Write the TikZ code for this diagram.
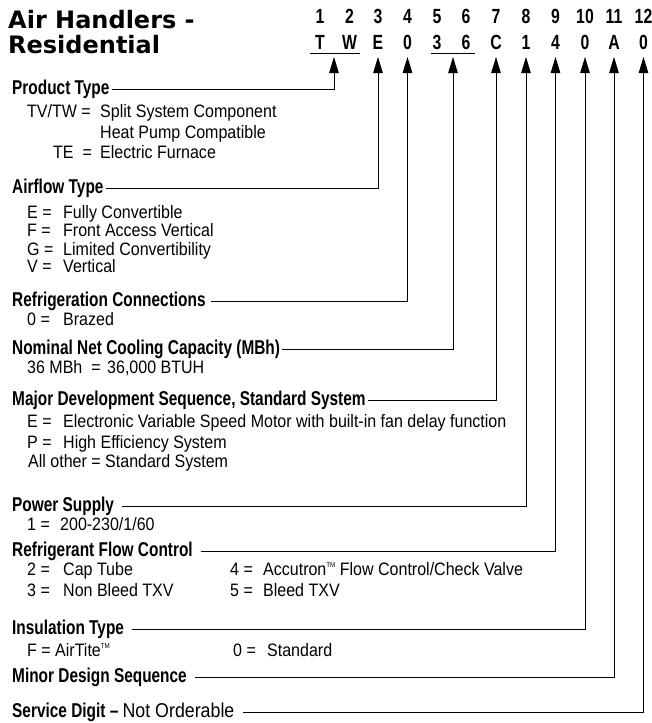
\documentclass[tikz,border=0pt]{standalone}
\usepackage{fontspec}
\setmainfont{Liberation Sans}
\newfontfamily\titlefont{DejaVu Sans}
\newfontfamily\headfont{Liberation Sans}[FakeStretch=0.77]
\newfontfamily\bodyfont{Liberation Sans}[FakeStretch=0.89]
\usetikzlibrary{arrows.meta}
\newcommand{\codebox}[2]{\makebox[#1][l]{#2}}
\newcommand{\tmark}{\raisebox{0.8ex}{\fontsize{7}{7}\selectfont TM}}

\tikzset{
  titletext/.style={anchor=base west, inner sep=0pt, font=\titlefont\bfseries\fontsize{24}{26}\selectfont},
  heading/.style={anchor=base west, inner xsep=2pt, inner ysep=0pt, text height=14pt, text depth=4pt, font=\headfont\bfseries\fontsize{20}{22}\selectfont},
  digit/.style={anchor=base, inner sep=0pt, font=\headfont\bfseries\fontsize{20.5}{22}\selectfont},
  entry/.style={anchor=base west, inner sep=0pt, font=\bodyfont\fontsize{18}{20}\selectfont},
  codeline/.style={line width=1pt, -{Triangle[width=9.5pt,length=16pt]}},
  widegap/.style={shorten <=6pt},
}

\begin{document}
\begin{tikzpicture}[x=1pt,y=-1pt]
		\useasboundingbox (0,0) rectangle (652,723);
		% title
		\node[titletext] (t1) at (8,28) {Air Handlers -};
		\node[titletext] (t2) at (8,53) {Residential};
		% digit positions
		\node[digit] (n1) at (320,23) {1};
		\node[digit] (n2) at (349.5,23) {2};
		\node[digit] (n3) at (378,23) {3};
		\node[digit] (n4) at (407.5,23) {4};
		\node[digit] (n5) at (437,23) {5};
		\node[digit] (n6) at (466,23) {6};
		\node[digit] (n7) at (496,23) {7};
		\node[digit] (n8) at (526,23) {8};
		\node[digit] (n9) at (555.5,23) {9};
		\node[digit] (n10) at (585,23) {10};
		\node[digit] (n11) at (614,23) {11};
		\node[digit] (n12) at (643.5,23) {12};
		% sample model number
		\node[digit] (c1) at (320,49.5) {T};
		\node[digit] (c2) at (349.5,49.5) {W};
		\node[digit] (c3) at (378,49.5) {E};
		\node[digit] (c4) at (407.5,49.5) {0};
		\node[digit] (c5) at (437,49.5) {3};
		\node[digit] (c6) at (466,49.5) {6};
		\node[digit] (c7) at (496,49.5) {C};
		\node[digit] (c8) at (526,49.5) {1};
		\node[digit] (c9) at (555.5,49.5) {4};
		\node[digit] (c10) at (585,49.5) {0};
		\node[digit] (c11) at (614,49.5) {A};
		\node[digit] (c12) at (643.5,49.5) {0};
		\draw[line width=1pt] (310,53.5) -- (359.5,53.5);
		\draw[line width=1pt] (431,53.5) -- (475,53.5);
		% arrow tips
		\coordinate (tipprod) at (334,57);
		\coordinate (tipair) at (378,57);
		\coordinate (tipref) at (407.5,57);
		\coordinate (tipcap) at (453,57);
		\coordinate (tipmaj) at (496,57);
		\coordinate (tippow) at (526,57);
		\coordinate (tipflow) at (555.5,57);
		\coordinate (tipins) at (585,57);
		\coordinate (tipmin) at (614,57);
		\coordinate (tipsrv) at (643.5,57);
		% fields
		\node[heading] (prod) at (10,94) {Product Type};
		\node[entry] (tvtw) at (27,117) {\codebox{73pt}{TV/TW =}Split System Component};
		\node[entry] (hpc) at (100,138) {Heat Pump Compatible};
		\node[entry] (te) at (53,158) {\codebox{47pt}{TE \ =}Electric Furnace};

		\node[heading] (air) at (10,193) {Airflow Type};
		\node[entry] (aire) at (27,218) {\codebox{36pt}{E =}Fully Convertible};
		\node[entry] (airf) at (27,236.5) {\codebox{36pt}{F =}Front Access Vertical};
		\node[entry] (airg) at (27,255) {\codebox{36pt}{G =}Limited Convertibility};
		\node[entry] (airv) at (27,272) {\codebox{36pt}{V =}Vertical};

		\node[heading] (ref) at (10,306) {Refrigeration Connections};
		\node[entry] (brz) at (27,325) {\codebox{36pt}{0 =}Brazed};

		\node[heading] (cap) at (10,354) {Nominal Net Cooling Capacity (MBh)};
		\node[entry] (mbh) at (27,373) {\codebox{80pt}{36 MBh\ \ =}36,000 BTUH};

		\node[heading] (maj) at (10,405) {Major Development Sequence, Standard System};
		\node[entry] (maje) at (27,427) {\codebox{36pt}{E =}Electronic Variable Speed Motor with built-in fan delay function};
		\node[entry] (majp) at (27,448) {\codebox{36pt}{P =}High Efficiency System};
		\node[entry] (majo) at (28,467) {All other = Standard System};

		\node[heading] (pow) at (10,511) {Power Supply};
		\node[entry] (volt) at (27,530) {\codebox{33pt}{1 =}200-230/1/60};

		\node[heading] (flow) at (10,556) {Refrigerant Flow Control};
		\node[entry] (flow2) at (27,575) {\codebox{36pt}{2 =}Cap Tube};
		\node[entry] (flow3) at (27,596) {\codebox{36pt}{3 =}Non Bleed TXV};
		\node[entry] (flow4) at (230,575) {\codebox{33pt}{4 =}Accutron\tmark{} Flow Control/Check Valve};
		\node[entry] (flow5) at (230,596) {\codebox{33pt}{5 =}Bleed TXV};

		\node[heading] (ins) at (10,634) {Insulation Type};
		\node[entry] (insf) at (27,656.5) {\codebox{28pt}{F =}AirTite\tmark};
		\node[entry] (ins0) at (233,656.5) {\codebox{34pt}{0 =}Standard};

		\node[heading] (min) at (10,682) {Minor Design Sequence};

		\node[heading] (srv) at (10,717) {Service Digit – {\bodyfont\mdseries Not Orderable}};
		% connectors
		\draw[codeline] (prod.east) -| (tipprod);
		\draw[codeline] (air.east) -| (tipair);
		\draw[codeline,shorten <=3pt] (ref.east) -| (tipref);
		\draw[codeline] (cap.east) -| (tipcap);
		\draw[codeline] (maj.east) -| (tipmaj);
		\draw[codeline,widegap] (pow.east) -| (tippow);
		\draw[codeline,widegap] (flow.east) -| (tipflow);
		\draw[codeline,widegap] (ins.east) -| (tipins);
		\draw[codeline,widegap] (min.east) -| (tipmin);
		\draw[codeline,widegap] (srv.east) -| (tipsrv);
	\end{tikzpicture}
\end{document}
